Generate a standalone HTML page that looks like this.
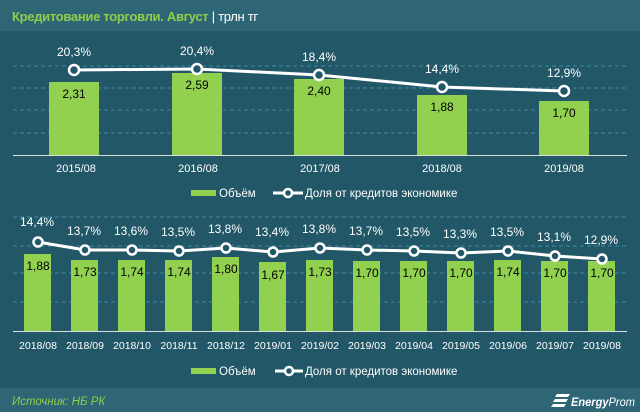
<!DOCTYPE html>
<html><head><meta charset="utf-8"><style>
body{margin:0;width:640px;height:416px;overflow:hidden;background:#fff}
svg{display:block}
text{font-family:"Liberation Sans",sans-serif}
</style></head><body>
<svg width="640" height="416" viewBox="0 0 640 416">
<rect x="0" y="0" width="640" height="412" fill="#215766"/>
<rect x="0" y="0" width="640" height="31" fill="#2e6676"/>
<rect x="0" y="388" width="640" height="24" fill="#2e6676"/>
<text x="12" y="21" font-size="13" font-weight="bold" fill="#8fce4c" letter-spacing="-0.3">Кредитование торговли. Август <tspan fill="#fff" font-weight="normal">| трлн тг</tspan></text>
<g stroke="#3f8ea3" stroke-dasharray="4,3" stroke-width="1">
<line x1="13" y1="66" x2="627" y2="66"/><line x1="13" y1="88" x2="627" y2="88"/><line x1="13" y1="110" x2="627" y2="110"/><line x1="13" y1="133" x2="627" y2="133"/>
<line x1="13" y1="217" x2="627" y2="217"/><line x1="13" y1="246" x2="627" y2="246"/><line x1="13" y1="273" x2="627" y2="273"/><line x1="13" y1="302" x2="627" y2="302"/>
</g>
<g fill="#92d050">
<rect x="49" y="82" width="50" height="73"/><rect x="172" y="73" width="50" height="82"/><rect x="294" y="79" width="50" height="76"/><rect x="417" y="95" width="50" height="60"/><rect x="539" y="101" width="50" height="54"/>
</g>
<line x1="13" y1="155.5" x2="627" y2="155.5" stroke="#ddd" stroke-width="1"/>
<g font-size="12" text-anchor="middle" fill="#000">
<text x="74" y="98">2,31</text><text x="197" y="89">2,59</text><text x="319" y="95">2,40</text><text x="442" y="111">1,88</text><text x="564" y="117">1,70</text>
</g>
<polyline points="74,70 197,69 319,75 442,87 564,91" fill="none" stroke="#fff" stroke-width="3"/>
<g fill="#215766" stroke="#fff" stroke-width="2.5">
<circle cx="74" cy="70" r="5"/><circle cx="197" cy="69" r="5"/><circle cx="319" cy="75" r="5"/><circle cx="442" cy="87" r="5"/><circle cx="564" cy="91" r="5"/>
</g>
<g font-size="12" text-anchor="middle" fill="#fff">
<text x="74" y="56">20,3%</text><text x="197" y="55">20,4%</text><text x="319" y="61">18,4%</text><text x="442" y="73">14,4%</text><text x="564" y="77">12,9%</text>
</g>
<g font-size="11" text-anchor="middle" fill="#fff">
<text x="76" y="172">2015/08</text><text x="198" y="172">2016/08</text><text x="320" y="172">2017/08</text><text x="442" y="172">2018/08</text><text x="564" y="172">2019/08</text>
</g>
<rect x="191" y="190" width="25" height="6" fill="#92d050"/>
<text x="219" y="197" font-size="11.5" fill="#fff">Объём</text>
<line x1="273" y1="193" x2="303" y2="193" stroke="#fff" stroke-width="3"/>
<circle cx="288" cy="193" r="4" fill="#215766" stroke="#fff" stroke-width="2.5"/>
<text x="305" y="197" font-size="11.5" fill="#fff">Доля от кредитов экономике</text>

<g fill="#92d050">
<rect x="24" y="254" width="27" height="77"/><rect x="71" y="260" width="27" height="71"/><rect x="118" y="260" width="27" height="71"/><rect x="165" y="260" width="27" height="71"/><rect x="212" y="257" width="27" height="74"/><rect x="259" y="262" width="27" height="69"/><rect x="306" y="260" width="27" height="71"/><rect x="353" y="261" width="27" height="70"/><rect x="400" y="261" width="27" height="70"/><rect x="447" y="261" width="27" height="70"/><rect x="494" y="260" width="27" height="71"/><rect x="541" y="261" width="27" height="70"/><rect x="588" y="261" width="27" height="70"/>
</g>
<line x1="13" y1="331.5" x2="627" y2="331.5" stroke="#ddd" stroke-width="1"/>
<g font-size="12" text-anchor="middle" fill="#000">
<text x="38" y="270">1,88</text><text x="85" y="276">1,73</text><text x="132" y="276">1,74</text><text x="179" y="276">1,74</text><text x="226" y="273">1,80</text><text x="273" y="279">1,67</text><text x="320" y="276">1,73</text><text x="367" y="277">1,70</text><text x="414" y="277">1,70</text><text x="461" y="277">1,70</text><text x="508" y="276">1,74</text><text x="555" y="277">1,70</text><text x="602" y="277">1,70</text>
</g>
<polyline points="38,242 85,250 132,250 179,251 226,248 273,252 320,248 367,250 414,251 461,253 508,251 555,256 602,259" fill="none" stroke="#fff" stroke-width="3"/>
<g fill="#215766" stroke="#fff" stroke-width="2.5">
<circle cx="38" cy="242" r="4.5"/><circle cx="85" cy="250" r="4.5"/><circle cx="132" cy="250" r="4.5"/><circle cx="179" cy="251" r="4.5"/><circle cx="226" cy="248" r="4.5"/><circle cx="273" cy="252" r="4.5"/><circle cx="320" cy="248" r="4.5"/><circle cx="367" cy="250" r="4.5"/><circle cx="414" cy="251" r="4.5"/><circle cx="461" cy="253" r="4.5"/><circle cx="508" cy="251" r="4.5"/><circle cx="555" cy="256" r="4.5"/><circle cx="602" cy="259" r="4.5"/>
</g>
<g font-size="12" text-anchor="middle" fill="#fff">
<text x="37" y="226">14,4%</text><text x="84" y="235">13,7%</text><text x="131" y="235">13,6%</text><text x="178" y="236">13,5%</text><text x="225" y="233">13,8%</text><text x="272" y="236">13,4%</text><text x="319" y="233">13,8%</text><text x="366" y="235">13,7%</text><text x="413" y="236">13,5%</text><text x="460" y="238">13,3%</text><text x="507" y="236">13,5%</text><text x="554" y="241">13,1%</text><text x="601" y="244">12,9%</text>
</g>
<g font-size="10.5" text-anchor="middle" fill="#fff">
<text x="38" y="349">2018/08</text><text x="85" y="349">2018/09</text><text x="132" y="349">2018/10</text><text x="179" y="349">2018/11</text><text x="226" y="349">2018/12</text><text x="273" y="349">2019/01</text><text x="320" y="349">2019/02</text><text x="367" y="349">2019/03</text><text x="414" y="349">2019/04</text><text x="461" y="349">2019/05</text><text x="508" y="349">2019/06</text><text x="555" y="349">2019/07</text><text x="602" y="349">2019/08</text>
</g>
<rect x="191" y="368" width="25" height="6" fill="#92d050"/>
<text x="219" y="375" font-size="11.5" fill="#fff">Объём</text>
<line x1="275" y1="371" x2="303" y2="371" stroke="#fff" stroke-width="3"/>
<circle cx="289" cy="371" r="4" fill="#215766" stroke="#fff" stroke-width="2.5"/>
<text x="305" y="375" font-size="11.5" fill="#fff">Доля от кредитов экономике</text>

<text x="12" y="405" font-size="11.5" font-style="italic" fill="#8fce4c">Источник: НБ РК</text>
<g fill="#fff"><polygon points="557,394 570,394 568,397 555,397"/><polygon points="555,399 568,399 566,402 553,402"/><polygon points="553,404 566,404 564,407 551,407"/></g>
<text x="571" y="406" font-size="12" font-style="italic" fill="#fff" textLength="64" lengthAdjust="spacingAndGlyphs"><tspan font-weight="bold">Energy</tspan>Prom</text>
</svg>
</body></html>
